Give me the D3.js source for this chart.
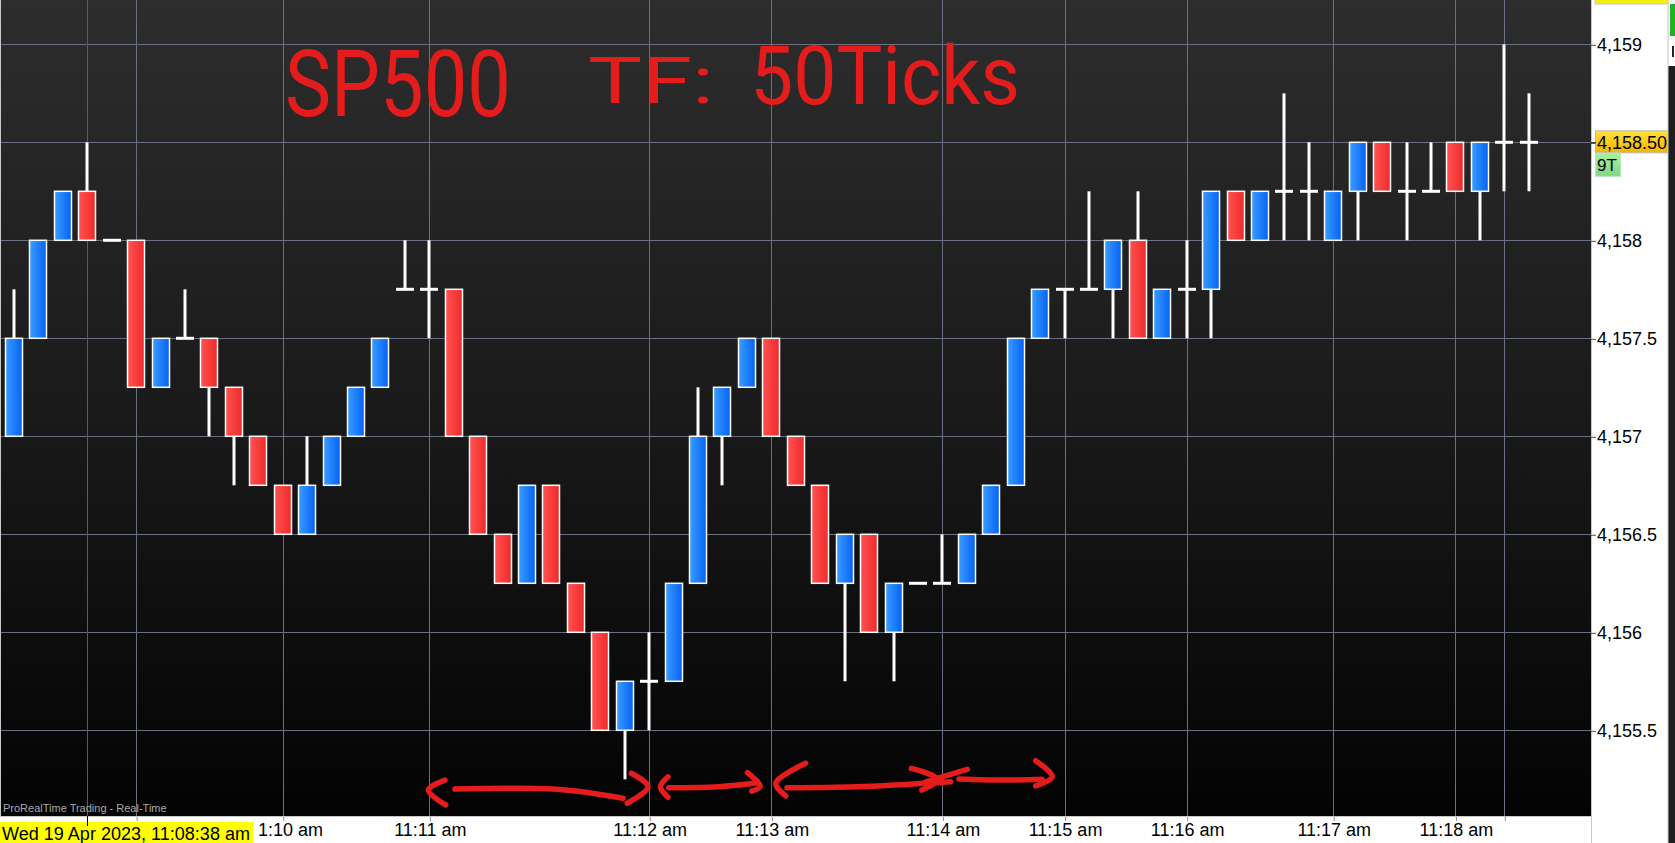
<!DOCTYPE html>
<html>
<head>
<meta charset="utf-8">
<script src="https://cdn.jsdelivr.net/npm/d3@7"></script>
<style>
html,body{margin:0;padding:0;background:#fff;overflow:hidden;}
svg{display:block;font-family:"Liberation Sans",Arial,sans-serif;}
</style>
</head>
<body>
<svg id="chart" width="1675" height="843"></svg>
<script>
// ---- DATA (50-tick candles, SP500) ----
const openP  = [4157,4157.5,4158,4158.25,4158,4158,4157.25,4157.5,4157.5,4157.25,4157,4156.75,4156.5,4156.75,4157,4157.25,4157.75,4157.75,4157.75,4157,4156.5,4156.25,4156.75,4156.25,4156,4155.5,4155.75,4155.75,4156.25,4157,4157.25,4157.5,4157,4156.75,4156.25,4156.5,4156,4156.25,4156.25,4156.25,4156.5,4156.75,4157.5,4157.75,4157.75,4157.75,4158,4157.5,4157.75,4157.75,4158.25,4158,4158.25,4158.25,4158,4158.25,4158.5,4158.25,4158.25,4158.5,4158.25,4158.5,4158.5];
const highP  = [4157.75,4158,4158.25,4158.5,4158,4158,4157.5,4157.75,4157.5,4157.25,4157,4156.75,4157,4157,4157.25,4157.5,4158,4158,4157.75,4157,4156.5,4156.75,4156.75,4156.25,4156,4155.75,4156,4156.25,4157.25,4157.25,4157.5,4157.5,4157,4156.75,4156.5,4156.5,4156.25,4156.25,4156.5,4156.5,4156.75,4157.5,4157.75,4157.75,4158.25,4158,4158.25,4157.75,4158,4158.25,4158.25,4158.25,4158.75,4158.5,4158.25,4158.5,4158.5,4158.5,4158.5,4158.5,4158.5,4159,4158.75];
const lowP   = [4157,4157.5,4158,4158,4158,4157.25,4157.25,4157.5,4157,4156.75,4156.75,4156.5,4156.5,4156.75,4157,4157.25,4157.75,4157.5,4157,4156.5,4156.25,4156.25,4156.25,4156,4155.5,4155.25,4155.5,4155.75,4156.25,4156.75,4157.25,4157,4156.75,4156.25,4155.75,4156,4155.75,4156.25,4156.25,4156.25,4156.5,4156.75,4157.5,4157.5,4157.75,4157.5,4157.5,4157.5,4157.5,4157.5,4158,4158,4158,4158,4158,4158,4158.25,4158,4158.25,4158.25,4158,4158.25,4158.25];
const closeP = [4157.5,4158,4158.25,4158,4158,4157.25,4157.5,4157.5,4157.25,4157,4156.75,4156.5,4156.75,4157,4157.25,4157.5,4157.75,4157.75,4157,4156.5,4156.25,4156.75,4156.25,4156,4155.5,4155.75,4155.75,4156.25,4157,4157.25,4157.5,4157,4156.75,4156.25,4156.5,4156,4156.25,4156.25,4156.25,4156.5,4156.75,4157.5,4157.75,4157.75,4157.75,4158,4157.5,4157.75,4157.75,4158.25,4158,4158.25,4158.25,4158.25,4158.25,4158.5,4158.25,4158.25,4158.25,4158.25,4158.5,4158.5,4158.5];

const priceTicks = [4155.5,4156,4156.5,4157,4157.5,4158,4158.5,4159];
const timeTickIdx = [5,11,17,26,31,38,43,48,54,59,61];
// 11:09 is hidden under the date box, 11:10 shows only "1:10 am"
const timeTickLabels = ["","1:10 am","11:11 am","11:12 am","11:13 am","11:14 am","11:15 am","11:16 am","11:17 am","11:18 am",""];
const cursorIdx = 3;
const lastPrice = 4158.5;
const lastPriceLabel = "4,158.50";
const tickCountLabel = "9T";
const dateLabel = "Wed 19 Apr 2023, 11:08:38 am";
const sourceLabel = "ProRealTime Trading - Real-Time";

// hand-drawn red arrows (annotation), points as [candle index, price]
const arrowStrokes = [
  [[17.64,4155.246],[16.96,4155.195],[17.67,4155.119]],
  [[18.05,4155.200],[22.22,4155.199],[24.93,4155.153]],
  [[25.27,4155.281],[25.95,4155.212],[25.10,4155.128]],
  [[26.77,4155.262],[26.46,4155.212],[26.77,4155.158]],
  [[26.80,4155.207],[28.84,4155.212],[30.45,4155.232]],
  [[30.02,4155.284],[30.54,4155.215],[30.20,4155.190]],
  [[32.40,4155.332],[31.18,4155.230],[31.59,4155.165]],
  [[31.64,4155.207],[34.44,4155.212],[38.34,4155.238]],
  [[36.73,4155.306],[37.83,4155.250],[37.16,4155.195]],
  [[39.02,4155.301],[38.0,4155.262],[37.3,4155.236]],
  [[38.68,4155.252],[40.5,4155.246],[42.08,4155.250]],
  [[41.82,4155.345],[42.50,4155.263],[41.82,4155.216]]
];

// ---- LAYOUT ----
const W = 1675, H = 843;
const plotL = 1, plotR = 1591, plotT = 0, plotB = 816;
const svg = d3.select("#chart");

const data = openP.map((o,i)=>({i, o, h:highP[i], l:lowP[i], c:closeP[i]}));

const x = d3.scaleLinear().domain([0, data.length-1]).range([14, 1528.7]);
const y = d3.scaleLinear().domain([4155.5, 4159]).range([730.3, 44.3]);

const defs = svg.append("defs");
const bg = defs.append("linearGradient").attr("id","bg").attr("x1",0).attr("y1",0).attr("x2",0).attr("y2",1);
bg.append("stop").attr("offset","0%").attr("stop-color","#2d2d2d");
bg.append("stop").attr("offset","50%").attr("stop-color","#1a1a1a");
bg.append("stop").attr("offset","100%").attr("stop-color","#030303");
const gBlue = defs.append("linearGradient").attr("id","gBlue").attr("x1",0).attr("y1",0).attr("x2",1).attr("y2",0);
gBlue.append("stop").attr("offset","0%").attr("stop-color","#3a9dff");
gBlue.append("stop").attr("offset","100%").attr("stop-color","#0561f5");
const gRed = defs.append("linearGradient").attr("id","gRed").attr("x1",0).attr("y1",0).attr("x2",1).attr("y2",0);
gRed.append("stop").attr("offset","0%").attr("stop-color","#ff5252");
gRed.append("stop").attr("offset","100%").attr("stop-color","#f02a2a");
const gYel = defs.append("linearGradient").attr("id","gYel").attr("x1",0).attr("y1",0).attr("x2",0).attr("y2",1);
gYel.append("stop").attr("offset","0%").attr("stop-color","#ffe23a");
gYel.append("stop").attr("offset","100%").attr("stop-color","#f5b400");
const gGrn = defs.append("linearGradient").attr("id","gGrn").attr("x1",0).attr("y1",0).attr("x2",0).attr("y2",1);
gGrn.append("stop").attr("offset","0%").attr("stop-color","#a6f0a6");
gGrn.append("stop").attr("offset","100%").attr("stop-color","#7ed87e");
defs.append("clipPath").attr("id","plotClip").append("rect")
  .attr("x",plotL).attr("y",plotT).attr("width",plotR-plotL).attr("height",plotB-plotT);

// page background
svg.append("rect").attr("width",W).attr("height",H).attr("fill","#ffffff");
// plot background
svg.append("rect").attr("x",plotL).attr("y",plotT).attr("width",plotR-plotL).attr("height",plotB-plotT).attr("fill","url(#bg)");
svg.append("line").attr("x1",0.5).attr("x2",0.5).attr("y1",0).attr("y2",plotB).attr("stroke","#c8c8c8");

const plot = svg.append("g").attr("clip-path","url(#plotClip)");

// gridlines
plot.append("g").selectAll("line").data(priceTicks).join("line")
  .attr("x1",plotL).attr("x2",plotR)
  .attr("y1",d=>Math.round(y(d))+0.5).attr("y2",d=>Math.round(y(d))+0.5)
  .attr("stroke","#6a7080").attr("stroke-width",1);
plot.append("g").selectAll("line").data(timeTickIdx).join("line")
  .attr("x1",d=>Math.round(x(d))+0.5).attr("x2",d=>Math.round(x(d))+0.5)
  .attr("y1",plotT).attr("y2",plotB)
  .attr("stroke","#6a7080").attr("stroke-width",1);
// cursor line
plot.append("line")
  .attr("x1",Math.round(x(cursorIdx))+0.5).attr("x2",Math.round(x(cursorIdx))+0.5)
  .attr("y1",plotT).attr("y2",plotB).attr("stroke","#a83a3a").attr("stroke-width",1);

// source label
plot.append("text").attr("x",3).attr("y",812).attr("font-size",11).attr("fill","#a8a8a8").text(sourceLabel);

// candles
const bodyW = 17;
const cg = plot.append("g");
cg.selectAll("line.wick").data(data.filter(d=>d.h>d.l)).join("line").attr("class","wick")
  .attr("x1",d=>Math.round(x(d.i))).attr("x2",d=>Math.round(x(d.i)))
  .attr("y1",d=>y(d.h)).attr("y2",d=>y(d.l))
  .attr("stroke","#ffffff").attr("stroke-width",3);
cg.selectAll("line.doji").data(data.filter(d=>d.o===d.c)).join("line").attr("class","doji")
  .attr("x1",d=>Math.round(x(d.i))-9).attr("x2",d=>Math.round(x(d.i))+9)
  .attr("y1",d=>y(d.o)).attr("y2",d=>y(d.o))
  .attr("stroke","#ffffff").attr("stroke-width",3);
cg.selectAll("rect.body").data(data.filter(d=>d.o!==d.c)).join("rect").attr("class","body")
  .attr("x",d=>Math.round(x(d.i))-bodyW/2)
  .attr("y",d=>y(Math.max(d.o,d.c)))
  .attr("width",bodyW)
  .attr("height",d=>y(Math.min(d.o,d.c))-y(Math.max(d.o,d.c)))
  .attr("fill",d=>d.c>d.o?"url(#gBlue)":"url(#gRed)")
  .attr("stroke","#ffffff").attr("stroke-width",1.5);

// hand-drawn annotations
const line = d3.line().x(d=>x(d[0])).y(d=>y(d[1])).curve(d3.curveCatmullRom.alpha(0.5));
plot.append("g").selectAll("path").data(arrowStrokes).join("path")
  .attr("d",line).attr("fill","none").attr("stroke","#e41c1c")
  .attr("stroke-width",5.5).attr("stroke-linecap","round").attr("stroke-linejoin","round");

const hand = plot.append("g").attr("fill","#e41c1c")
  .attr("font-family","Roboto, Lato, 'Open Sans', sans-serif").attr("font-weight",400);
hand.append("text").attr("x",285).attr("y",116).attr("font-size",92)
  .attr("textLength",226).attr("lengthAdjust","spacingAndGlyphs").text("SP500");
hand.append("text").attr("x",588).attr("y",103).attr("font-size",64)
  .attr("textLength",126).attr("lengthAdjust","spacingAndGlyphs").text("TF:");
hand.append("text").attr("x",750).attr("y",104).attr("font-size",82)
  .attr("textLength",270).attr("lengthAdjust","spacingAndGlyphs").text("50Ticks");

// ---- X AXIS ----
svg.append("line").attr("x1",0).attr("x2",plotR).attr("y1",plotB+0.5).attr("y2",plotB+0.5).attr("stroke","#c8c8c8");
const xAxis = d3.axisBottom(x).tickValues(timeTickIdx).tickFormat((d,i)=>timeTickLabels[i]).tickSize(4).tickPadding(3);
const xg = svg.append("g").attr("transform",`translate(0.5,${plotB+1})`).call(xAxis);
xg.select(".domain").remove();
xg.selectAll(".tick line").attr("stroke","#8a8f9a");
xg.selectAll(".tick text").attr("font-size",18).attr("fill","#000").attr("font-family","'Liberation Sans',Arial,sans-serif").attr("dy","0.62em").attr("y",8);
// the partially hidden 11:10 label starts right after the date box
xg.selectAll(".tick text").filter(d=>d===timeTickIdx[1]).attr("text-anchor","start").attr("x",257-x(timeTickIdx[1]));
// cursor tick in axis
svg.append("line").attr("x1",Math.round(x(cursorIdx))+0.5).attr("x2",Math.round(x(cursorIdx))+0.5)
  .attr("y1",plotB).attr("y2",plotB+6).attr("stroke","#000");

// date box
svg.append("rect").attr("x",0).attr("y",822).attr("width",253).attr("height",21).attr("fill","#ffff00");
svg.append("line").attr("x1",Math.round(x(cursorIdx))+0.5).attr("x2",Math.round(x(cursorIdx))+0.5)
  .attr("y1",822).attr("y2",826).attr("stroke","#000");
svg.append("text").attr("x",2).attr("y",840).attr("font-size",18).attr("fill","#000")
  .attr("textLength",248).attr("lengthAdjust","spacingAndGlyphs").text(dateLabel);

// ---- Y AXIS (right) ----
svg.append("line").attr("x1",plotR+0.5).attr("x2",plotR+0.5).attr("y1",0).attr("y2",H).attr("stroke","#c8c8c8");
const fmt = d3.format(",");
const yAxis = d3.axisRight(y).tickValues(priceTicks).tickFormat(d=>d===lastPrice?"":fmt(d)).tickSize(5).tickPadding(1);
const yg = svg.append("g").attr("transform",`translate(${plotR},0.5)`).call(yAxis);
yg.select(".domain").remove();
yg.selectAll(".tick line").attr("stroke","#555");
yg.selectAll(".tick text").attr("font-size",18).attr("fill","#000").attr("font-family","'Liberation Sans',Arial,sans-serif");

// current price box
const yp = y(lastPrice);
svg.append("rect").attr("x",1595.5).attr("y",yp-11.5).attr("width",73).attr("height",22).attr("fill","url(#gYel)").attr("stroke","#b8b8b8");
svg.append("line").attr("x1",plotR).attr("x2",1596).attr("y1",yp+0.5).attr("y2",yp+0.5).attr("stroke","#000");
svg.append("text").attr("x",1597).attr("y",yp+7).attr("font-size",18).attr("fill","#000").text(lastPriceLabel);
svg.append("rect").attr("x",1595.5).attr("y",yp+11).attr("width",25).attr("height",23).attr("fill","url(#gGrn)").attr("stroke","#b8e8b8");
svg.append("text").attr("x",1597).attr("y",yp+29).attr("font-size",17).attr("fill","#000").text(tickCountLabel);

// top-right partial label and side strip
svg.append("rect").attr("x",1595).attr("y",-20).attr("width",73).attr("height",24).attr("fill","#f2ee10").attr("stroke","#c8c8c8");
svg.append("rect").attr("x",1668).attr("y",0).attr("width",7).attr("height",H).attr("fill","#1e1e1e");
svg.append("rect").attr("x",1668).attr("y",0).attr("width",7).attr("height",40).attr("fill","#f4f4f4");
svg.append("rect").attr("x",1670).attr("y",4).attr("width",5).attr("height",32).attr("fill","#22b022");
svg.append("rect").attr("x",1668).attr("y",40).attr("width",7).attr("height",26).attr("fill","#ffffff");
svg.append("rect").attr("x",1672).attr("y",46).attr("width",2).attr("height",11).attr("fill","#222");
svg.append("line").attr("x1",1668).attr("x2",1668).attr("y1",0).attr("y2",H).attr("stroke","#c8c8c8");
</script>
</body>
</html>
